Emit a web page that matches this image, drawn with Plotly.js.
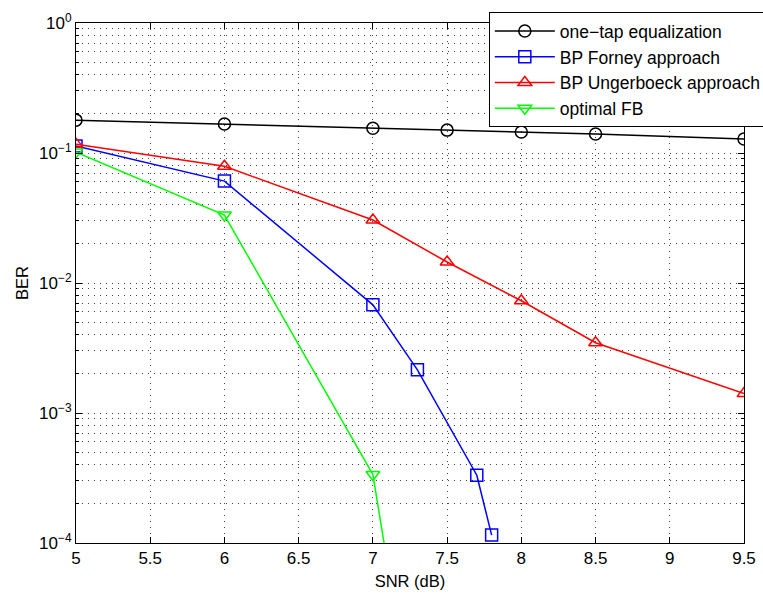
<!DOCTYPE html>
<html>
<head>
<meta charset="utf-8">
<script src="https://cdn.plot.ly/plotly-3.0.1.min.js"></script>
<style>html,body{margin:0;padding:0;background:#fff;overflow:hidden;}#chart{width:763px;height:599px;}</style>
</head>
<body>
<div id="chart"></div>
<script>
var snrOneTap = [5, 6, 7, 7.5, 8, 8.5, 9.5];
var berOneTap = [0.179, 0.167, 0.155, 0.150, 0.145, 0.140, 0.128];

var snrForney = [5, 6, 7, 7.3, 7.7, 7.8];
var berForney = [0.113, 0.0608, 0.00679, 0.00215, 0.000332, 0.000115];

var snrUnger = [5, 6, 7, 7.5, 8, 8.5, 9.5];
var berUnger = [0.117, 0.079, 0.0305, 0.0145, 0.0073, 0.00347, 0.00141];

var snrOptFB = [5, 6, 7, 7.1];
var berOptFB = [0.1016, 0.0333, 0.000336, 0.000067];

var xTicks = [5, 5.5, 6, 6.5, 7, 7.5, 8, 8.5, 9, 9.5];
var xTickText = ['5', '5.5', '6', '6.5', '7', '7.5', '8', '8.5', '9', '9.5'];
var yTicks = [1e-4, 1e-3, 1e-2, 1e-1, 1];
var yTickText = ['10<sup>−4</sup>', '10<sup>−3</sup>', '10<sup>−2</sup>', '10<sup>−1</sup>', '10<sup>0</sup>'];

var names = ['one−tap equalization', 'BP Forney approach', 'BP Ungerboeck approach', 'optimal FB'];

var minorVals = [];
for (var e = -4; e < 0; e++) {
  for (var m = 2; m <= 9; m++) minorVals.push(m * Math.pow(10, e));
}

function tr(x, y, name, color, symbol) {
  return {
    x: x, y: y, name: name, type: 'scatter', mode: 'lines+markers',
    line: {color: color, width: 1.5},
    marker: {symbol: symbol, size: 12, color: color, line: {color: color, width: 1.5}},
    cliponaxis: true
  };
}

var data = [
  tr(snrOneTap, berOneTap, names[0], '#000000', 'circle-open'),
  tr(snrForney, berForney, names[1], '#0000ff', 'square-open'),
  tr(snrUnger, berUnger, names[2], '#ff0000', 'triangle-up-open'),
  tr(snrOptFB, berOptFB, names[3], '#00ff00', 'triangle-down-open')
];

var gridDash = '1px,5px';
var layout = {
  width: 763, height: 599,
  margin: {l: 76, r: 19, t: 23, b: 56, autoexpand: false},
  paper_bgcolor: '#fff', plot_bgcolor: '#fff',
  font: {family: 'Liberation Sans, Arial, sans-serif', size: 17, color: '#000'},
  showlegend: true,
  legend: {
    x: 0.618, y: 1.021, xanchor: 'left', yanchor: 'top',
    bgcolor: '#fff', bordercolor: '#000', borderwidth: 1,
    font: {size: 17.5, color: '#000'},
    itemwidth: 60, tracegroupgap: 0
  },
  xaxis: {
    range: [5, 9.5], tickvals: xTicks, ticktext: xTickText,
    ticks: 'inside', ticklen: 6, tickcolor: '#000',
    showline: true, linecolor: '#000', linewidth: 1, mirror: 'allticks',
    showgrid: true, gridcolor: '#444', griddash: gridDash, gridwidth: 1,
    zeroline: false, automargin: false,
    title: {text: 'SNR (dB)', font: {size: 16.5}, standoff: 8},
    tickfont: {size: 17}
  },
  yaxis: {
    type: 'log', range: [-4, 0], tickvals: yTicks, ticktext: yTickText,
    ticks: 'inside', ticklen: 6, tickcolor: '#000',
    showline: true, linecolor: '#000', linewidth: 1, mirror: 'allticks',
    showgrid: true, gridcolor: '#444', griddash: gridDash, gridwidth: 1,
    zeroline: false, automargin: false,
    minor: {tickvals: minorVals, ticks: 'inside', ticklen: 3, tickcolor: '#000',
            showgrid: true, gridcolor: '#444', griddash: gridDash, gridwidth: 1},
    title: {text: 'BER', font: {size: 16.5}, standoff: 6},
    tickfont: {size: 17}
  }
};

Plotly.newPlot('chart', data, layout, {displayModeBar: false, staticPlot: true});
</script>
</body>
</html>
